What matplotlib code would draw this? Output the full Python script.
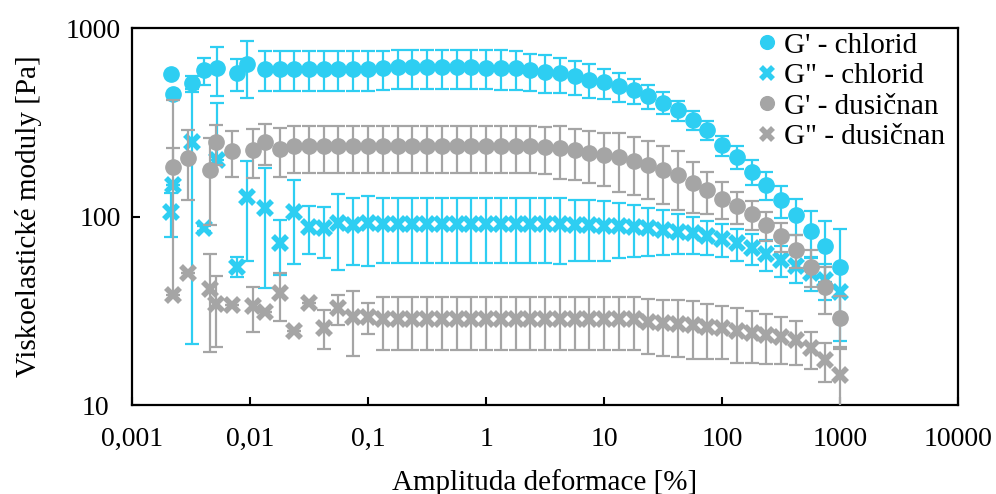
import matplotlib.pyplot as plt
import numpy as np
from matplotlib.ticker import FixedLocator, NullLocator
from matplotlib.transforms import ScaledTranslation

# strain amplitude [%]
x_chlorid = [0.00214, 0.00223, 0.00321, 0.0041, 0.0053, 0.00772, 0.00947,
             0.0133, 0.0178, 0.0237, 0.0316, 0.0422, 0.0562, 0.075, 0.1,
             0.133, 0.178, 0.237, 0.316, 0.422, 0.562, 0.75, 1,
             1.33, 1.78, 2.37, 3.16, 4.22, 5.62, 7.5, 10,
             13.3, 17.8, 23.7, 31.6, 42.2, 56.2, 75, 100,
             133, 178, 237, 316, 422, 562, 750, 1000]
x_dusicnan = [0.00224, 0.00296, 0.00458, 0.00515, 0.00708, 0.01067,
              0.0133, 0.0178, 0.0237, 0.0316, 0.0422, 0.0562, 0.075, 0.1,
              0.133, 0.178, 0.237, 0.316, 0.422, 0.562, 0.75, 1,
              1.33, 1.78, 2.37, 3.16, 4.22, 5.62, 7.5, 10,
              13.3, 17.8, 23.7, 31.6, 42.2, 56.2, 75, 100,
              133, 178, 237, 316, 422, 562, 750, 1000]

# G' - chlorid
g1_chlorid = [568, 445, 509, 598, 616, 575, 642,
              608, 608, 608, 608, 608, 608, 608, 608,
              616, 620, 620, 620, 620, 620, 620, 618,
              617, 614, 598, 586, 575, 556, 534, 515,
              492, 469, 438, 403, 367, 325, 288, 239,
              208, 173, 147, 122, 102, 84, 70, 54]
g1_chlorid_err = [0, 0, 50, 98, 178, 113, 214,
                  145, 145, 145, 145, 145, 145, 145, 145,
                  145, 145, 145, 145, 145, 145, 145, 145,
                  145, 145, 132, 133, 121, 112, 108, 93,
                  86, 71, 64, 54, 45, 38, 33, 30,
                  28, 26, 25, 24, 22, 23, 25, 32]
# G'' - chlorid
g2_chlorid = [106, 147, 249, 86.6, 199.5, 54.2, 127.4,
              111.6, 72.8, 106, 88.3, 86.6, 92, 90.2, 92,
              91, 91, 91, 91, 91, 91, 91, 91,
              91, 91, 91, 91, 91, 90.5, 90, 89.5,
              89, 88, 86.6, 85.3, 83, 81.7, 78.8, 75.9,
              72.3, 68.1, 63.3, 58.7, 54.6, 50.2, 46, 39.8]
g2_chlorid_err = [28, 0, 228, 3, 200, 6.5, 69,
                  70, 23.5, 50, 25, 26, 40, 35, 37,
                  34, 34, 34, 34, 34, 34, 34, 34,
                  34, 34, 34, 34, 35, 32, 32, 31,
                  29, 27, 25, 23, 20, 18, 16, 15,
                  14, 13, 12, 11, 10, 10, 10, 12]
# G' - dusicnan
g1_dusicnan = [183.6, 205, 176.4, 247.5, 222.6, 225.3,
               249, 228, 236.6, 236, 236, 236, 236, 236,
               236, 236, 236, 236, 236, 236, 236, 236,
               236, 236, 236, 234.6, 230, 225.3, 218, 212,
               206, 197.7, 187.5, 176.4, 166, 150, 138, 124.6,
               113.7, 103, 90.2, 78.8, 66.4, 54.2, 42.3, 28.9]
g1_dusicnan_err = [232, 83, 86, 60, 61, 65,
                   62, 66, 66, 66, 66, 66, 66, 66,
                   66, 66, 66, 66, 66, 66, 66, 66,
                   66, 66, 66, 66, 72, 68, 67, 67,
                   71, 68, 63, 60, 57, 46, 35, 28,
                   22, 18, 16, 14, 13, 12, 12, 9]
# G'' - dusicnan
g2_dusicnan = [38.3, 50, 41.1, 34.3, 33.9, 33.5,
               31.3, 39.1, 24.8, 34.9, 25.8, 32.6, 29.2, 29.4,
               28.5, 28.5, 28.5, 28.5, 28.5, 28.5, 28.5, 28.5,
               28.5, 28.5, 28.5, 28.5, 28.5, 28.5, 28.5, 28.5,
               28.5, 28.5, 27.7, 27.3, 26.9, 26.6, 26.0, 25.5,
               24.8, 24.2, 23.5, 23.0, 22.1, 20.0, 17.3, 14.4]
g2_dusicnan_err = [192, 0, 22, 14, 0, 9,
                   0, 11, 0, 0, 6, 6, 11, 5.6,
                   9, 9, 9, 9, 9, 9, 9, 9,
                   9, 9, 9, 9, 9, 9, 9, 9,
                   9, 9, 9, 9, 9, 9, 8.5, 8,
                   8, 7.5, 7, 6.5, 5.7, 4.5, 4, 6]

x_ticks = [0.001, 0.01, 0.1, 1, 10, 100, 1000, 10000]
x_ticklabels = ["0,001", "0,01", "0,1", "1", "10", "100", "1000", "10000"]
y_ticks = [10, 100, 1000]
y_ticklabels = ["10", "100", "1000"]

blue = "#2ECEF2"
grey = "#A5A5A5"

plt.rcParams['font.family'] = ['Liberation Serif', 'DejaVu Serif']

fig, ax = plt.subplots(figsize=(9.96, 4.94), dpi=100)
fig.subplots_adjust(left=0.1325, right=0.962, bottom=0.18, top=0.943)

series = [
    (x_chlorid, g1_chlorid, g1_chlorid_err, blue, "o", "G' - chlorid"),
    (x_chlorid, g2_chlorid, g2_chlorid_err, blue, "x", 'G" - chlorid'),
    (x_dusicnan, g1_dusicnan, g1_dusicnan_err, grey, "o", "G' - dusičnan"),
    (x_dusicnan, g2_dusicnan, g2_dusicnan_err, grey, "x", 'G" - dusičnan'),
]

for i, (x, y, err, col, mk, lab) in enumerate(series):
    y = np.array(y, dtype=float)
    err = np.array(err, dtype=float)
    # lower part is not drawn when it would go below zero (log axis)
    lo = np.where(err >= y, 0, err)
    ax.errorbar(x, y, yerr=[lo, err], fmt="none", ecolor=col,
                elinewidth=1.6, capsize=5, capthick=1.6, zorder=2 + 2 * i)
    if mk == "o":
        ax.plot(x, y, "o", color=col, ms=11, mec=col, label=lab,
                linestyle="none", zorder=3 + 2 * i)
    else:
        ax.plot(x, y, "x", color=col, ms=10, mew=4, label=lab,
                linestyle="none", zorder=3 + 2 * i)

ax.set_xscale("log")
ax.set_yscale("log")
ax.set_xlim(0.001, 10000)
ax.set_ylim(10, 1000)
ax.xaxis.set_major_locator(FixedLocator(x_ticks))
ax.yaxis.set_major_locator(FixedLocator(y_ticks))
ax.xaxis.set_minor_locator(NullLocator())
ax.yaxis.set_minor_locator(NullLocator())
ax.set_xticklabels(x_ticklabels)
ax.set_yticklabels(y_ticklabels)
ax.tick_params(axis="both", direction="in", length=6, width=1.5,
               labelsize=20, colors="black")
ax.tick_params(axis="x", pad=16)
ax.tick_params(axis="y", pad=8)
for sp in ax.spines.values():
    sp.set_linewidth(1.6)

# bottom "10" label sits a bit further left in the original
lbl10 = ax.get_yticklabels()[0]
lbl10.set_transform(lbl10.get_transform()
                    + ScaledTranslation(-12 / 100, 0, fig.dpi_scale_trans))

ax.set_xlabel("Amplituda deformace [%]", fontsize=21, labelpad=12)
ax.set_ylabel("Viskoelastické moduly [Pa]", fontsize=21, labelpad=17)

leg = ax.legend(loc="upper right", bbox_to_anchor=(0.9915, 1.005),
                frameon=False, fontsize=21,
                handlelength=0.7, handletextpad=0.25, labelspacing=0.14,
                borderaxespad=0.1, borderpad=0.1, markerscale=0.9)

fig.savefig("out.png", dpi=100)
